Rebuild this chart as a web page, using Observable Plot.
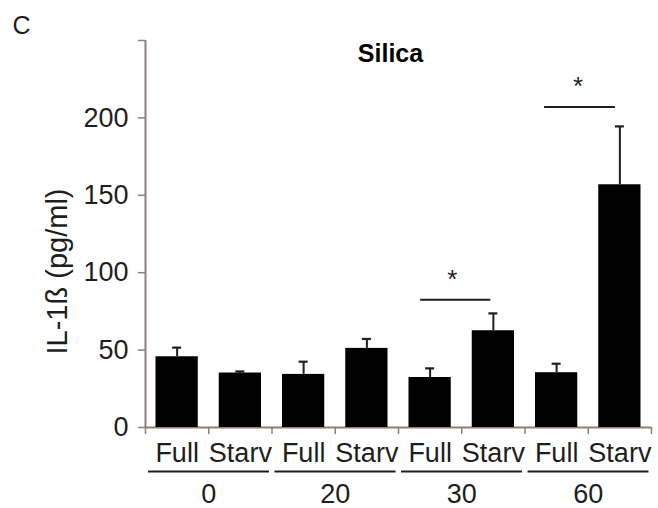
<!DOCTYPE html>
<html><head><meta charset="utf-8">
<script src="https://cdn.jsdelivr.net/npm/d3@7"></script>
<script src="https://cdn.jsdelivr.net/npm/@observablehq/plot@0.6"></script>
<style>
body{margin:0;background:#fff}
#chart{width:658px;height:508px}
</style>
</head><body><div id="chart"></div>
<script>
// ---- data ----
const groups = ["0", "20", "30", "60"];
const conditions = ["Full", "Starv"];
const means = [45.7, 35.2, 34.3, 51.1, 32.3, 62.5, 35.4, 156.8];
const upperErrors = [51.6, 36.2, 42.5, 57.2, 38.2, 73.7, 41.2, 194.5];
const yTicks = [0, 50, 100, 150, 200, 250];
const yTickLabels = ["0", "50", "100", "150", "200", ""];
const xTicks = [0, 1, 2, 3, 4, 5, 6, 7, 8];
// significance brackets (x in bar-slot units, y in pg/ml)
const bracketX1 = [4.35, 6.31];
const bracketX2 = [5.46, 7.43];
const bracketY = [82.6, 207];
const starX = [4.85, 6.84];
const starY = [90, 214.8];

const bars = means.map((m, i) => ({
  i, group: groups[Math.floor(i / 2)], cond: conditions[i % 2], mean: m, upper: upperErrors[i]
}));
const brackets = bracketX1.map((x1, k) => ({x1, x2: bracketX2[k], y: bracketY[k], sx: starX[k], sy: starY[k]}));

const axisColor = "#8c7f7a";
const ink = "#1e1e1e";
const font = "'Liberation Sans', Arial, Helvetica, sans-serif";

const chart = Plot.plot({
  width: 658,
  height: 508,
  marginLeft: 145,
  marginRight: 7,
  marginTop: 40,
  marginBottom: 81,
  style: {fontFamily: font, background: "#fff", overflow: "visible"},
  x: {domain: [0, 8], axis: null},
  y: {domain: [0, 250], axis: null},
  marks: [
    // axes
    Plot.axisY({ticks: yTicks, tickFormat: d => yTickLabels[yTicks.indexOf(d)], tickSize: 7, tickPadding: 10,
      fontSize: 27, stroke: axisColor, fill: ink, strokeWidth: 1.5}),
    Plot.axisX({ticks: xTicks, tickFormat: () => "", tickSize: 7, stroke: axisColor, strokeWidth: 1.5}),
    Plot.ruleX([0], {y1: 0, y2: 250, stroke: axisColor, strokeWidth: 2}),
    Plot.ruleY([0], {stroke: axisColor, strokeWidth: 2}),
    // bars
    Plot.rectY(bars, {x1: d => d.i, x2: d => d.i + 1, y1: 0, y2: "mean", insetLeft: 10.5, insetRight: 10.5, fill: "#000"}),
    // error bars (upper only)
    Plot.ruleX(bars, {x: d => d.i + 0.5, y1: "mean", y2: "upper", stroke: ink, strokeWidth: 2}),
    Plot.ruleY(bars, {x1: d => d.i + 0.5, x2: d => d.i + 0.5, y: "upper", insetLeft: -4.5, insetRight: -4.5, stroke: ink, strokeWidth: 2.2}),
    // significance
    Plot.ruleY(brackets, {x1: "x1", x2: "x2", y: "y", stroke: ink, strokeWidth: 2}),
    Plot.text(brackets, {x: "sx", y: "sy", text: () => "*", fontSize: 26, lineAnchor: "bottom", fill: ink}),
    // category labels
    Plot.text(bars, {x: d => d.i + 0.5, y: () => 0, text: "cond", dy: 34, lineAnchor: "bottom", fontSize: 27, fill: ink}),
    Plot.ruleY(groups, {x1: (d, k) => 2 * k, x2: (d, k) => 2 * k + 2, y: () => 0, dy: 44, insetLeft: 3, insetRight: 2.5, stroke: ink, strokeWidth: 2}),
    Plot.text(groups, {x: (d, k) => 2 * k + 1, y: () => 0, text: d => d, dy: 75, lineAnchor: "bottom", fontSize: 27, fill: ink}),
    // titles
    Plot.text(["Silica"], {frameAnchor: "top", text: d => d, textAnchor: "middle", dx: -8, dy: 21, lineAnchor: "bottom", fontSize: 25, fontWeight: "bold", fill: "#000"}),
    Plot.text(["C"], {frameAnchor: "top-left", text: d => d, textAnchor: "start", dx: -133, dy: -7, lineAnchor: "bottom", fontSize: 25, fill: ink}),
    Plot.text(["IL-1ß (pg/ml)"], {frameAnchor: "left", text: d => d, textAnchor: "middle", rotate: -90, dx: -78.5, dy: 37.5, lineAnchor: "bottom", fontSize: 29, fill: ink})
  ]
});
document.getElementById("chart").append(chart);
</script>
</body></html>
